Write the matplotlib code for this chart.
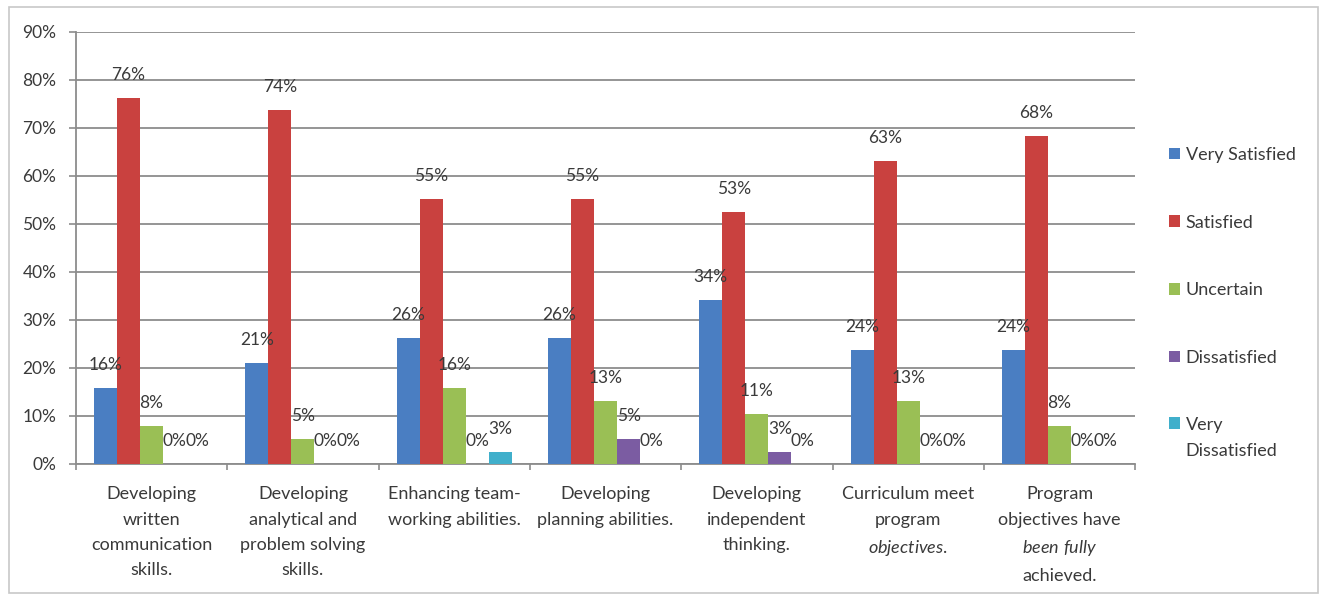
import numpy as np
import matplotlib
matplotlib.use("Agg")
import matplotlib.pyplot as plt
from matplotlib.patches import Rectangle
from matplotlib.ticker import FuncFormatter, MultipleLocator

plt.rcParams['font.family'] = ['Lato', 'DejaVu Sans']
plt.rcParams['mathtext.fontset'] = 'custom'
plt.rcParams['mathtext.rm'] = 'Lato'
plt.rcParams['mathtext.it'] = 'Lato:italic'

# survey items (x categories)
categories = [
    "Developing\nwritten\ncommunication\nskills.",
    "Developing\nanalytical and\nproblem solving\nskills.",
    "Enhancing team-\nworking abilities.",
    "Developing\nplanning abilities.",
    "Developing\nindependent\nthinking.",
    "Curriculum meet\nprogram\n$\\mathit{objectives.}$",
    "Program\nobjectives have\n$\\mathit{been\\ fully}$\nachieved.",
]

# percentage of respondents per answer
very_satisfied = [15.8, 21.1, 26.3, 26.3, 34.2, 23.7, 23.7]
satisfied = [76.3, 73.7, 55.3, 55.3, 52.6, 63.2, 68.4]
uncertain = [7.9, 5.3, 15.8, 13.2, 10.5, 13.2, 7.9]
dissatisfied = [0.0, 0.0, 0.0, 5.3, 2.6, 0.0, 0.0]
very_dissatisfied = [0.0, 0.0, 2.6, 0.0, 0.0, 0.0, 0.0]

series = [
    ("Very Satisfied", very_satisfied, "#4A7EC2"),
    ("Satisfied", satisfied, "#C9413F"),
    ("Uncertain", uncertain, "#9ABF55"),
    ("Dissatisfied", dissatisfied, "#7B5CA2"),
    ("Very\nDissatisfied", very_dissatisfied, "#40AFCB"),
]

text_col = "#3A3A3A"
grid_col = "#8C8C8C"

fig = plt.figure(figsize=(13.23, 5.97), dpi=100)
ax = fig.add_axes([0.0574, 0.2228, 0.8006, 0.7236])

x = np.arange(len(categories))
w = 0.152
for i, (name, vals, col) in enumerate(series):
    pos = x + (i - 2) * w
    ax.bar(pos, vals, width=w, color=col, label=name, zorder=3)
    for px, v in zip(pos, vals):
        ax.annotate(f"{int(v + 0.5)}%", (px, v), xytext=(0, 16.5), textcoords="offset points",
                    ha="center", va="center", fontsize=12.5, color=text_col, zorder=4)

ax.set_xlim(-0.5, len(categories) - 0.5)
ax.set_ylim(0, 90)
ax.yaxis.set_major_locator(MultipleLocator(10))
ax.yaxis.set_major_formatter(FuncFormatter(lambda v, p: f"{v:.0f}%"))
ax.yaxis.grid(True, color=grid_col, linewidth=1.3, zorder=0)

ax.set_xticks(x)
ax.set_xticklabels(categories, fontsize=13, color=text_col, linespacing=1.72)
ax.set_xticks(np.arange(len(categories) + 1) - 0.5, minor=True)
ax.tick_params(axis="x", which="major", length=0, pad=16)
ax.tick_params(axis="x", which="minor", length=4, color=grid_col, width=1.2)
ax.tick_params(axis="y", length=5, color=grid_col, width=1.2, labelsize=12.5,
               labelcolor=text_col, pad=9)

for s in ("top", "right"):
    ax.spines[s].set_visible(False)
for s in ("left", "bottom"):
    ax.spines[s].set_color(grid_col)
    ax.spines[s].set_linewidth(1.3)

leg = fig.legend(loc="upper left", bbox_to_anchor=(0.877, 0.769), frameon=False,
                 fontsize=13, labelcolor=text_col, handlelength=0.6, handleheight=0.6,
                 handletextpad=0.3, labelspacing=2.86, borderpad=0)
for t in leg.get_texts():
    t.set_linespacing(1.75)
# put the square of the two-line entry next to its first line
for col in leg._legend_handle_box.get_children():
    col.get_children()[-1].align = "top"

fig.patches.append(Rectangle((0.007, 0.007), 0.989, 0.982, transform=fig.transFigure,
                             fill=False, edgecolor="#C8C8C8", linewidth=1.2))

fig.savefig("out.png", dpi=100)
